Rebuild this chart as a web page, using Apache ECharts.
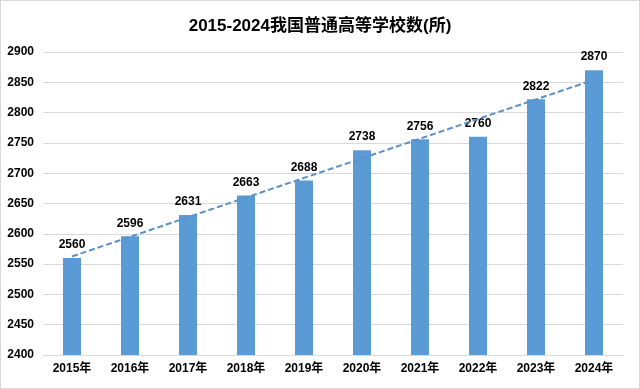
<!DOCTYPE html>
<html><head><meta charset="utf-8">
<script src="https://cdn.jsdelivr.net/npm/echarts@6/dist/echarts.min.js"></script>
<style>html,body{margin:0;padding:0;background:#fff}#c{width:640px;height:389px;box-sizing:border-box;border:1px solid #d9d9d9}</style>
</head><body><div id="c"></div>
<script>
const categories = ['2015年','2016年','2017年','2018年','2019年','2020年','2021年','2022年','2023年','2024年'];
const values = [2560,2596,2631,2663,2688,2738,2756,2760,2822,2870];
const yTicks = [2400,2450,2500,2550,2600,2650,2700,2750,2800,2850,2900];

// least-squares linear trendline derived from the data
const n = values.length;
const xm = (n - 1) / 2;
const ym = values.reduce((a, b) => a + b, 0) / n;
let sxy = 0, sxx = 0;
values.forEach((v, i) => { sxy += (i - xm) * (v - ym); sxx += (i - xm) * (i - xm); });
const slope = sxy / sxx;
const trend = values.map((v, i) => +(ym + slope * (i - xm)).toFixed(2));

const font = '"Liberation Sans", "Noto Sans CJK SC", sans-serif';
const chart = echarts.init(document.getElementById('c'));
chart.setOption({
  animation: false,
  title: {
    text: '2015-2024我国普通高等学校数(所)',
    left: 'center', top: 12,
    textStyle: { fontSize: 17, fontWeight: 'bold', color: '#000', fontFamily: font }
  },
  grid: { left: 42, right: 16, top: 51, bottom: 33, containLabel: false },
  xAxis: {
    type: 'category', data: categories,
    axisLine: { lineStyle: { color: '#d9d9d9' } },
    axisTick: { show: false },
    axisLabel: { color: '#000', fontWeight: 'bold', fontSize: 12, fontFamily: font, margin: 8 }
  },
  yAxis: {
    type: 'value', min: yTicks[0], max: yTicks[yTicks.length - 1], interval: 50,
    axisLine: { show: false }, axisTick: { show: false },
    splitLine: { lineStyle: { color: '#d9d9d9' } },
    axisLabel: { color: '#000', fontWeight: 'bold', fontSize: 12, fontFamily: font, margin: 9, formatter: v => String(v) }
  },
  series: [
    {
      type: 'bar', data: values, barWidth: 18,
      itemStyle: { color: '#5b9bd5' },
      label: { show: true, position: 'top', color: '#000', fontWeight: 'bold', fontSize: 12, fontFamily: font, distance: 7 }
    },
    {
      type: 'line', data: trend, symbol: 'none', silent: true,
      lineStyle: { type: [6, 3], width: 2, color: '#5b8fc8' }, z: 5
    }
  ]
});
</script></body></html>
